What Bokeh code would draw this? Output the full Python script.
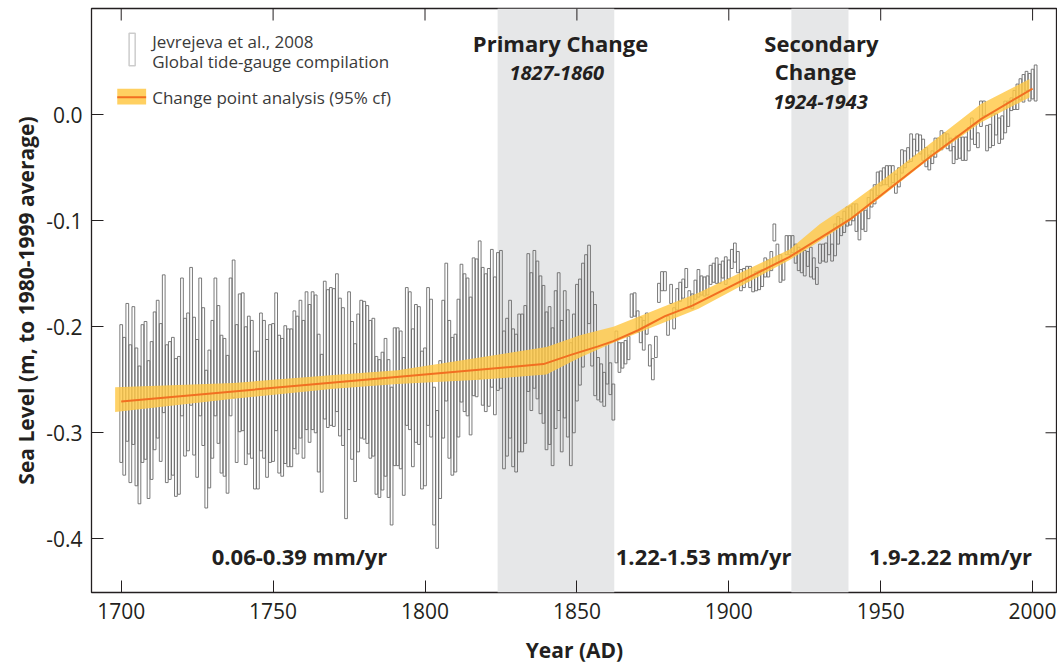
from bokeh.plotting import figure
from bokeh.models import (Range1d, FixedTicker, NumeralTickFormatter,
                          BoxAnnotation, Label, ColumnDataSource)
from bokeh.embed import file_html
from bokeh.resources import INLINE

# ---------------- data ----------------
years = list(range(1700, 2002))

sea_level = [
    -0.263, -0.275, -0.243, -0.282, -0.246, -0.285, -0.302, -0.263, -0.260, -0.297,  # 1700
    -0.279, -0.251, -0.240, -0.262, -0.216, -0.282, -0.279, -0.275, -0.295, -0.293,  # 1710
    -0.219, -0.257, -0.252, -0.209, -0.256, -0.277, -0.219, -0.247, -0.306, -0.287,  # 1720
    -0.259, -0.219, -0.245, -0.273, -0.276, -0.292, -0.219, -0.202, -0.263, -0.234,  # 1730
    -0.233, -0.265, -0.255, -0.259, -0.288, -0.288, -0.252, -0.259, -0.277, -0.263,  # 1740
    -0.262, -0.233, -0.273, -0.276, -0.264, -0.267, -0.267, -0.250, -0.255, -0.240,  # 1750
    -0.259, -0.232, -0.244, -0.232, -0.235, -0.272, -0.291, -0.222, -0.230, -0.228,  # 1760
    -0.229, -0.215, -0.238, -0.247, -0.316, -0.232, -0.260, -0.281, -0.253, -0.240,  # 1770
    -0.241, -0.245, -0.259, -0.257, -0.293, -0.296, -0.289, -0.276, -0.296, -0.322,  # 1780
    -0.266, -0.266, -0.269, -0.294, -0.228, -0.232, -0.267, -0.244, -0.246, -0.288,  # 1790
    -0.285, -0.228, -0.239, -0.322, -0.344, -0.297, -0.240, -0.205, -0.259, -0.275,  # 1800
    -0.272, -0.239, -0.206, -0.215, -0.219, -0.237, -0.200, -0.201, -0.184, -0.209,  # 1810
    -0.215, -0.210, -0.192, -0.218, -0.195, -0.193, -0.269, -0.257, -0.240, -0.267,  # 1820
    -0.272, -0.253, -0.253, -0.245, -0.196, -0.214, -0.193, -0.203, -0.217, -0.226,  # 1830
    -0.251, -0.246, -0.266, -0.231, -0.214, -0.256, -0.226, -0.244, -0.273, -0.244,  # 1840
    -0.215, -0.205, -0.189, -0.177, -0.160, -0.202, -0.222, -0.249, -0.253, -0.259,  # 1850
    -0.235, -0.249, -0.271, -0.219, -0.229, -0.227, -0.224, -0.220, -0.180, -0.179,  # 1860
    -0.195, -0.203, -0.208, -0.197, -0.227, -0.240, -0.219, -0.168, -0.157, -0.157,  # 1870
    -0.199, -0.169, -0.192, -0.174, -0.167, -0.164, -0.154, -0.174, -0.176, -0.165,  # 1880
    -0.159, -0.161, -0.162, -0.161, -0.151, -0.149, -0.147, -0.150, -0.146, -0.147,  # 1890
    -0.146, -0.136, -0.130, -0.139, -0.156, -0.154, -0.150, -0.153, -0.160, -0.157,  # 1900
    -0.156, -0.154, -0.144, -0.145, -0.138, -0.111, -0.131, -0.145, -0.147, -0.123,  # 1910
    -0.123, -0.122, -0.131, -0.136, -0.138, -0.140, -0.136, -0.139, -0.145, -0.152,  # 1920
    -0.131, -0.130, -0.130, -0.122, -0.130, -0.118, -0.109, -0.106, -0.101, -0.096,  # 1930
    -0.095, -0.092, -0.097, -0.105, -0.099, -0.100, -0.088, -0.079, -0.075, -0.065,  # 1940
    -0.060, -0.058, -0.057, -0.058, -0.056, -0.065, -0.059, -0.044, -0.042, -0.038,  # 1950
    -0.031, -0.031, -0.026, -0.028, -0.033, -0.040, -0.045, -0.040, -0.031, -0.028,  # 1960
    -0.024, -0.023, -0.025, -0.028, -0.038, -0.031, -0.031, -0.032, -0.032, -0.023,  # 1970
    -0.013, -0.018, -0.024, 0.001, 0.006, -0.022, -0.020, -0.014, -0.009, -0.015,    # 1980
    -0.012, -0.002, 0.001, 0.010, 0.014, 0.017, 0.024, 0.025, 0.032, 0.026,          # 1990
    0.029, 0.030,                                                                    # 2000
]

half_range = [
    0.065, 0.065, 0.065, 0.065, 0.065, 0.065, 0.065, 0.065, 0.065, 0.065,  # 1700
    0.065, 0.065, 0.065, 0.065, 0.065, 0.065, 0.065, 0.065, 0.065, 0.065,  # 1710
    0.065, 0.065, 0.065, 0.065, 0.065, 0.065, 0.065, 0.065, 0.065, 0.065,  # 1720
    0.065, 0.065, 0.065, 0.065, 0.065, 0.065, 0.065, 0.065, 0.065, 0.065,  # 1730
    0.065, 0.065, 0.065, 0.065, 0.065, 0.065, 0.065, 0.065, 0.065, 0.065,  # 1740
    0.065, 0.065, 0.065, 0.065, 0.065, 0.065, 0.065, 0.065, 0.065, 0.065,  # 1750
    0.065, 0.065, 0.065, 0.065, 0.065, 0.065, 0.065, 0.065, 0.065, 0.065,  # 1760
    0.065, 0.065, 0.065, 0.065, 0.065, 0.065, 0.065, 0.065, 0.065, 0.065,  # 1770
    0.065, 0.065, 0.065, 0.065, 0.065, 0.065, 0.065, 0.065, 0.065, 0.065,  # 1780
    0.065, 0.065, 0.065, 0.065, 0.065, 0.065, 0.065, 0.065, 0.065, 0.065,  # 1790
    0.065, 0.065, 0.065, 0.065, 0.065, 0.065, 0.065, 0.065, 0.065, 0.065,  # 1800
    0.065, 0.065, 0.065, 0.065, 0.065, 0.065, 0.065, 0.065, 0.065, 0.065,  # 1810
    0.065, 0.065, 0.065, 0.065, 0.065, 0.065, 0.065, 0.065, 0.065, 0.065,  # 1820
    0.065, 0.065, 0.065, 0.065, 0.065, 0.065, 0.065, 0.065, 0.065, 0.065,  # 1830
    0.065, 0.065, 0.065, 0.065, 0.065, 0.062, 0.060, 0.060, 0.058, 0.056,  # 1840
    0.055, 0.050, 0.049, 0.045, 0.037, 0.035, 0.043, 0.020, 0.018, 0.016,  # 1850
    0.019, 0.015, 0.017, 0.015, 0.014, 0.012, 0.011, 0.011, 0.011, 0.011,  # 1860
    0.010, 0.012, 0.014, 0.010, 0.010, 0.010, 0.010, 0.009, 0.009, 0.009,  # 1870
    0.009, 0.009, 0.010, 0.010, 0.009, 0.009, 0.009, 0.008, 0.007, 0.009,  # 1880
    0.013, 0.009, 0.009, 0.009, 0.009, 0.009, 0.012, 0.009, 0.008, 0.013,  # 1890
    0.009, 0.009, 0.009, 0.010, 0.010, 0.009, 0.007, 0.010, 0.007, 0.009,  # 1900
    0.009, 0.008, 0.009, 0.008, 0.009, 0.008, 0.009, 0.013, 0.009, 0.009,  # 1910
    0.009, 0.008, 0.009, 0.011, 0.011, 0.012, 0.007, 0.014, 0.010, 0.008,  # 1920
    0.009, 0.008, 0.009, 0.010, 0.008, 0.015, 0.013, 0.008, 0.010, 0.009,  # 1930
    0.009, 0.008, 0.013, 0.013, 0.009, 0.010, 0.010, 0.008, 0.009, 0.011,  # 1940
    0.007, 0.008, 0.009, 0.010, 0.008, 0.009, 0.009, 0.011, 0.008, 0.007,  # 1950
    0.013, 0.008, 0.008, 0.009, 0.010, 0.009, 0.007, 0.006, 0.009, 0.006,  # 1960
    0.009, 0.006, 0.007, 0.006, 0.008, 0.011, 0.010, 0.011, 0.011, 0.011,  # 1970
    0.010, 0.010, 0.007, 0.012, 0.007, 0.012, 0.011, 0.015, 0.010, 0.012,  # 1980
    0.011, 0.015, 0.012, 0.006, 0.009, 0.012, 0.010, 0.013, 0.009, 0.013,  # 1990
    0.014, 0.017,                                                          # 2000
]

# change point analysis: central line and 95% band
cp_years = [1700, 1770, 1839, 1848, 1857, 1862, 1870, 1879, 1888, 1920, 1930, 1940, 1950, 1966, 1983, 2000]
cp_level = [-0.2705, -0.2525, -0.2352, -0.2265, -0.2185, -0.2135, -0.2035, -0.1900, -0.1800,
            -0.134, -0.1164, -0.0985, -0.0762, -0.0403, -0.0041, 0.0248]

band_years = [1698, 1737, 1770, 1791, 1818, 1840, 1851, 1862, 1890, 1920, 1930, 1940, 1950, 1966, 1983, 1999]
band_upper = [-0.257, -0.253, -0.2455, -0.241, -0.229, -0.219, -0.208, -0.200, -0.168,
              -0.127, -0.103, -0.084, -0.063, -0.0277, 0.0101, 0.0337]
band_lower = [-0.2805, -0.268, -0.2585, -0.254, -0.250, -0.245, -0.229, -0.215, -0.183,
              -0.137, -0.119, -0.100, -0.078, -0.0418, -0.0072, 0.0164]

# change periods (shaded)
shade_start = [1823.9, 1920.6]
shade_end = [1862.3, 1939.4]

# rate annotations
rate_labels = ["0.06-0.39 mm/yr", "1.22-1.53 mm/yr", "1.9-2.22 mm/yr"]
rate_x = [1758.7, 1891.7, 1973.0]

x_ticks = [1700, 1750, 1800, 1850, 1900, 1950, 2000]
y_ticks = [0.0, -0.1, -0.2, -0.3, -0.4]

# ---------------- layout / styling ----------------
FONT = "Open Sans"
TXT = "#231f20"
W, H = 1057, 666
B_LEFT, B_RIGHT, B_TOP, B_BOTTOM = 91, 0, 8, 74
X0, X1 = 1690.22, 2008.2
Y0, Y1 = -0.4507, 0.1003

p = figure(width=W, height=H,
           x_range=Range1d(X0, X1), y_range=Range1d(Y0, Y1),
           output_backend="svg", toolbar_location=None,
           min_border_left=B_LEFT, min_border_right=B_RIGHT,
           min_border_top=B_TOP, min_border_bottom=B_BOTTOM,
           background_fill_color="white", border_fill_color="white")
p.grid.visible = False
p.outline_line_color = TXT
p.outline_line_width = 1.3

for s, e in zip(shade_start, shade_end):
    p.add_layout(BoxAnnotation(left=s, right=e, fill_color="#e6e7e8", fill_alpha=1.0,
                               line_color=None, level="underlay"))

src = ColumnDataSource(dict(year=years, level=sea_level,
                            height=[2 * h for h in half_range]))
p.rect(x="year", y="level", width=0.9, height="height", source=src,
       fill_color=None, line_color="#6b6b6b", line_width=0.9)

p.varea(x=band_years, y1=band_lower, y2=band_upper, fill_color="#ffc845", fill_alpha=0.82)
p.line(cp_years, cp_level, line_color="#f26f21", line_width=2)

# axes (ticks point inward)
for ax in (p.xaxis[0], p.yaxis[0]):
    ax.major_tick_in = 12
    ax.major_tick_out = 0
    ax.minor_tick_line_color = None
    ax.major_tick_line_color = TXT
    ax.axis_line_color = None
    ax.major_label_text_font = FONT
    ax.major_label_text_font_size = "21px"
    ax.major_label_text_color = TXT
    ax.axis_label_text_font = FONT
    ax.axis_label_text_font_style = "bold"
    ax.axis_label_text_font_size = "21px"
    ax.axis_label_text_color = TXT

p.xaxis.ticker = FixedTicker(ticks=x_ticks)
p.yaxis.ticker = FixedTicker(ticks=y_ticks)
p.yaxis.formatter = NumeralTickFormatter(format="0.0")
p.xaxis.major_label_standoff = 10
p.yaxis.major_label_standoff = 9
p.xaxis.axis_label = "Year (AD)"
p.yaxis.axis_label = "Sea Level (m, to 1980-1999 average)"
p.xaxis.axis_label_standoff = 14
p.yaxis.axis_label_standoff = 3

# inward ticks on the top and right frame edges (12 px long)
frame_w = W - B_LEFT - B_RIGHT
frame_h = H - B_TOP - B_BOTTOM
tick_dx = 12 * (X1 - X0) / frame_w
tick_dy = 12 * (Y1 - Y0) / frame_h
p.segment(x0=x_ticks, y0=[Y1] * len(x_ticks), x1=x_ticks, y1=[Y1 - tick_dy] * len(x_ticks),
          line_color=TXT, line_width=1)
p.segment(x0=[X1] * len(y_ticks), y0=y_ticks, x1=[X1 - tick_dx] * len(y_ticks), y1=y_ticks,
          line_color=TXT, line_width=1)

# annotations
def txt(x, y, text, size="22px", style="bold", align="center", color=TXT):
    p.add_layout(Label(x=x, y=y, text=text, text_font=FONT, text_font_size=size,
                       text_font_style=style, text_align=align, text_baseline="middle",
                       text_color=color))

txt(1844.6, 0.0682, "Primary Change")
txt(1843.4, 0.0399, "1827-1860", size="20px", style="bold italic")
txt(1930.5, 0.0682, "Secondary")
txt(1928.6, 0.0409, "Change")
txt(1930.2, 0.0125, "1924-1943", size="20px", style="bold italic")
for lab, xx in zip(rate_labels, rate_x):
    txt(xx, -0.4167, lab)

# legend (drawn by hand)
p.add_layout(BoxAnnotation(left=1702.6, right=1704.6, bottom=0.0462, top=0.0770,
                           fill_color=None, line_color="#555555", line_width=1.5))
p.add_layout(BoxAnnotation(left=1698.7, right=1708.2, bottom=0.0097, top=0.0245,
                           fill_color="#ffc845", fill_alpha=0.85, line_color=None))
p.add_layout(BoxAnnotation(left=1698.7, right=1708.2, bottom=0.0157, top=0.0175,
                           fill_color="#f26f21", fill_alpha=1.0, line_color=None))
txt(1710.2, 0.0695, "Jevrejeva et al., 2008", size="17px", style="normal", align="left", color="#3a3a3a")
txt(1710.2, 0.0503, "Global tide-gauge compilation", size="17px", style="normal", align="left", color="#3a3a3a")
txt(1710.2, 0.0166, "Change point analysis (95% cf)", size="17px", style="normal", align="left", color="#3a3a3a")

open("out.html", "w").write(file_html(p, INLINE))
